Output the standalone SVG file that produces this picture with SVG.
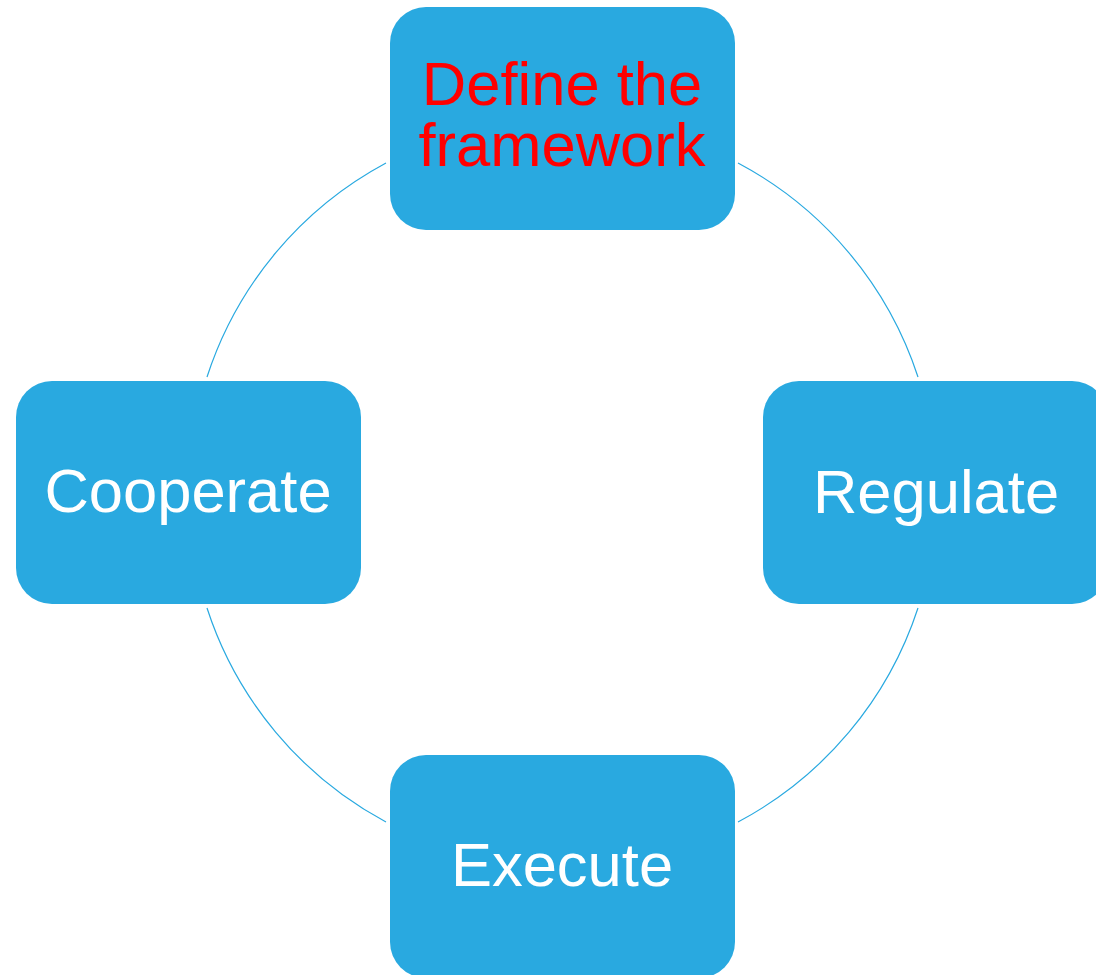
<svg xmlns="http://www.w3.org/2000/svg" width="1096" height="975" viewBox="0 0 1096 975">
<style>
.box{fill:#29A9E0;}
.lbl{font-family:"Liberation Sans",Arial,sans-serif;font-size:61.5px;text-anchor:middle;fill:#FFFFFF;}
.red{fill:#FF0000;}
.arc{fill:none;stroke:#29A9E0;stroke-width:1.2;}
</style>
<rect width="1096" height="975" fill="#FFFFFF"/>
<g id="connectors">
<path class="arc" d="M 386 163 A 374 374 0 0 0 207 377"/>
<path class="arc" d="M 207 608 A 374 374 0 0 0 386 822"/>
<path class="arc" d="M 738 822 A 374 374 0 0 0 918 608"/>
<path class="arc" d="M 918 377 A 374 374 0 0 0 738 163"/>
</g>
<g id="define">
<rect class="box" x="390" y="7" width="345" height="223" rx="36" ry="36"/>
<text class="lbl red" x="562" y="105"><tspan x="562" y="105">Define the</tspan><tspan x="562" y="166">framework</tspan></text>
</g>
<g id="regulate">
<rect class="box" x="763" y="381" width="345" height="223" rx="36" ry="36"/>
<text class="lbl" x="936" y="513">Regulate</text>
</g>
<g id="execute">
<rect class="box" x="390" y="755" width="345" height="223" rx="36" ry="36"/>
<text class="lbl" x="562" y="886">Execute</text>
</g>
<g id="cooperate">
<rect class="box" x="16" y="381" width="345" height="223" rx="36" ry="36"/>
<text class="lbl" x="188" y="512">Cooperate</text>
</g>
</svg>
